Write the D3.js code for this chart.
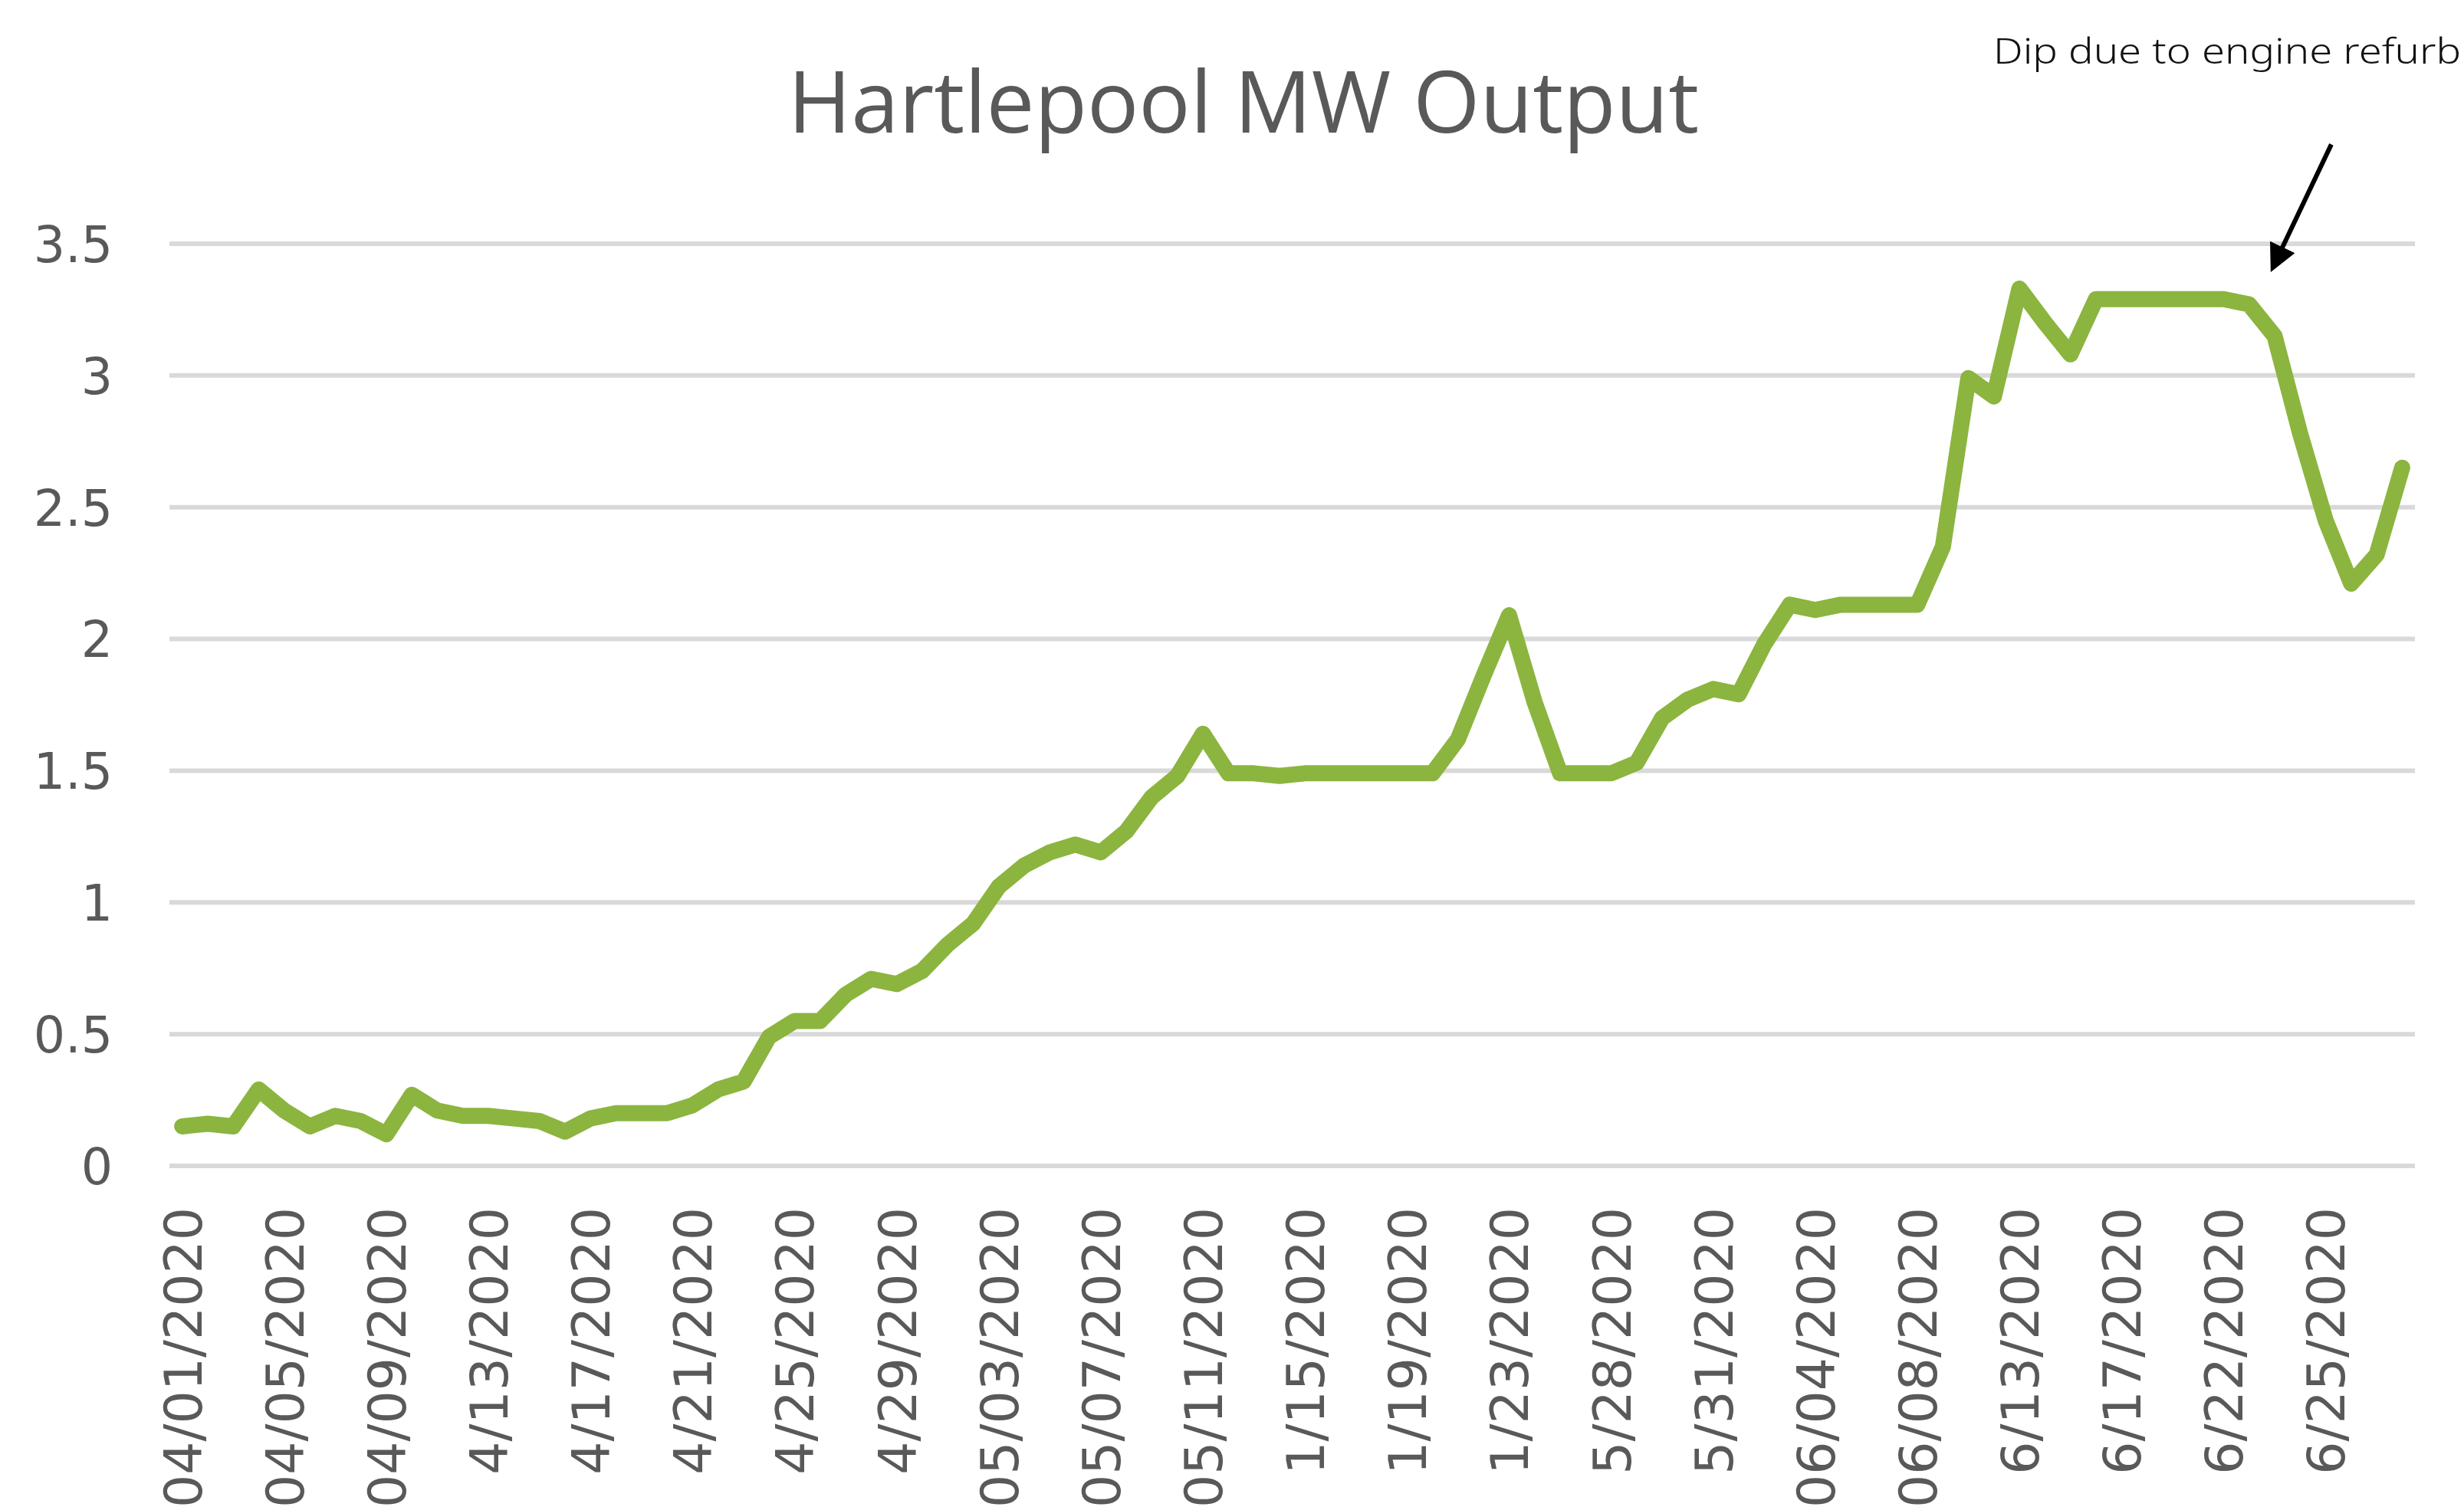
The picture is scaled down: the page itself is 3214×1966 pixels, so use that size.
<!DOCTYPE html>
<html>
<head>
<meta charset="utf-8">
<script src="https://cdn.jsdelivr.net/npm/d3@7"></script>
<style>
  body { margin: 0; background: #fff; }
  svg { display: block; }
</style>
</head>
<body>
<svg id="chart"></svg>
<script>
"use strict";

// Hartlepool MW output, one value per category (88 categories)
const outputMW = [
  0.15, 0.16, 0.15, 0.29, 0.21, 0.15, 0.19, 0.17, 0.12, 0.27,
  0.21, 0.19, 0.19, 0.18, 0.17, 0.13, 0.18, 0.20, 0.20, 0.20,
  0.23, 0.29, 0.32, 0.49, 0.55, 0.55, 0.65, 0.71, 0.69, 0.74,
  0.84, 0.92, 1.06, 1.14, 1.19, 1.22, 1.19, 1.27, 1.40, 1.48,
  1.64, 1.49, 1.49, 1.48, 1.49, 1.49, 1.49, 1.49, 1.49, 1.49,
  1.62, 1.86, 2.09, 1.76, 1.49, 1.49, 1.49, 1.53, 1.70, 1.77,
  1.81, 1.79, 1.98, 2.13, 2.11, 2.13, 2.13, 2.13, 2.13, 2.35,
  2.99, 2.92, 3.33, 3.20, 3.08, 3.29, 3.29, 3.29, 3.29, 3.29,
  3.29, 3.27, 3.15, 2.78, 2.45, 2.21, 2.32, 2.65
];

// every 4th category carries a label on the axis
const tickLabels = [
  "04/01/2020", "04/05/2020", "04/09/2020", "4/13/2020", "4/17/2020",
  "4/21/2020", "4/25/2020", "4/29/2020", "05/03/2020", "05/07/2020",
  "05/11/2020", "1/15/2020", "1/19/2020", "1/23/2020", "5/28/2020",
  "5/31/2020", "06/04/2020", "06/08/2020", "6/13/2020", "6/17/2020",
  "6/22/2020", "6/25/2020"
];
const labelEvery = 4;

const yTicks = [0, 0.5, 1, 1.5, 2, 2.5, 3, 3.5];

const titleText = "Hartlepool MW Output";
const noteText = "Dip due to engine refurb";
const noteIndex = 82;

const width = 3214;
const height = 1966;
const margin = { left: 221, right: 64, top: 318, bottom: 445 };

const svg = d3.select("svg#chart")
  .attr("width", width)
  .attr("height", height);

svg.append("rect")
  .attr("width", width)
  .attr("height", height)
  .attr("fill", "#ffffff");

const x = d3.scalePoint()
  .domain(d3.range(outputMW.length))
  .range([margin.left, width - margin.right])
  .padding(0.5);

const y = d3.scaleLinear()
  .domain([0, 3.5])
  .range([height - margin.bottom, margin.top]);

// gridlines
svg.append("g")
  .attr("class", "grid")
  .selectAll("line")
  .data(yTicks)
  .join("line")
  .attr("x1", margin.left)
  .attr("x2", width - margin.right)
  .attr("y1", (d) => y(d))
  .attr("y2", (d) => y(d))
  .attr("stroke", "#d9d9d9")
  .attr("stroke-width", 6);

// y axis labels
const yAxis = svg.append("g")
  .attr("transform", `translate(${margin.left - 74},0)`)
  .call(d3.axisLeft(y).tickValues(yTicks).tickSize(0).tickFormat(d3.format("")));
yAxis.select(".domain").remove();
yAxis.selectAll("text")
  .attr("x", 0)
  .attr("dy", "0.36em")
  .attr("fill", "#595959")
  .style("font-family", "'DejaVu Sans', Verdana, sans-serif")
  .style("font-size", "65px");

// x axis labels, rotated
const xAxis = svg.append("g")
  .attr("transform", `translate(0,${y(0)})`)
  .call(
    d3.axisBottom(x)
      .tickValues(d3.range(0, outputMW.length, labelEvery))
      .tickSize(0)
      .tickFormat((d) => tickLabels[d / labelEvery])
  );
xAxis.select(".domain").remove();
xAxis.selectAll("text")
  .attr("transform", "rotate(-90)")
  .attr("text-anchor", "end")
  .attr("x", -54)
  .attr("y", 0)
  .attr("dy", "0.36em")
  .attr("fill", "#595959")
  .style("font-family", "'DejaVu Sans', Verdana, sans-serif")
  .style("font-size", "68px");

// the series
const line = d3.line()
  .x((d, i) => x(i))
  .y((d) => y(d));

svg.append("path")
  .datum(outputMW)
  .attr("d", line)
  .attr("fill", "none")
  .attr("stroke", "#8bb53f")
  .attr("stroke-width", 21)
  .attr("stroke-linejoin", "round")
  .attr("stroke-linecap", "round");

// title
svg.append("text")
  .attr("x", 1622)
  .attr("y", 173)
  .attr("text-anchor", "middle")
  .attr("fill", "#595959")
  .style("font-family", "'Open Sans', sans-serif")
  .style("font-size", "112px")
  .text(titleText);

// annotation with arrow pointing at the drop
svg.append("defs")
  .append("marker")
  .attr("id", "arrowhead")
  .attr("viewBox", "0 0 10 10")
  .attr("refX", 8)
  .attr("refY", 5)
  .attr("markerWidth", 6)
  .attr("markerHeight", 6)
  .attr("orient", "auto")
  .append("path")
  .attr("d", "M0,0 L10,5 L0,10 z")
  .attr("fill", "#000");

const tipX = x(noteIndex) - 2;
const tipY = y(3.4) - 4;
svg.append("line")
  .attr("x1", tipX + 76)
  .attr("y1", tipY - 160)
  .attr("x2", tipX)
  .attr("y2", tipY)
  .attr("stroke", "#000")
  .attr("stroke-width", 6)
  .attr("marker-end", "url(#arrowhead)");

svg.append("text")
  .attr("x", 2600)
  .attr("y", 83)
  .attr("fill", "#111")
  .attr("textLength", 610)
  .attr("lengthAdjust", "spacingAndGlyphs")
  .style("font-family", "'Noto Sans', sans-serif")
  .style("font-size", "46px")
  .style("font-weight", 300)
  .text(noteText);
</script>
</body>
</html>
